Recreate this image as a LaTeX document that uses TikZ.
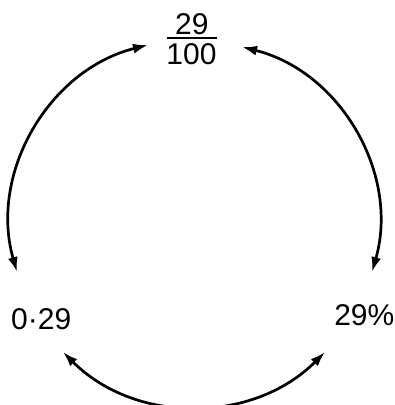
\documentclass[tikz,border=0pt]{standalone}
\usepackage{fontspec}
\setmainfont{Liberation Sans}
\usetikzlibrary{arrows.meta}
\tikzset{
  lbl/.style={inner sep=0pt, font=\fontsize{30}{36}\selectfont},
  conn/.style={line width=2.7pt, {Latex[length=15pt,width=10pt]}-{Latex[length=15pt,width=10pt]}},
}
\begin{document}
\begin{tikzpicture}[x=1pt,y=1pt]
\useasboundingbox (0,0) rectangle (395,405);
% labels
\node[lbl, anchor=base] (num) at (191.8,370.7) {29};
\node[lbl, anchor=base] (den) at (191.5,340.7) {100};
\draw[line width=2pt] (166.7,367.3) -- (216.7,367.3);
\node[lbl, anchor=base west] (dec) at (11,75.7) {0·29};
\node[lbl, anchor=base east] (pct) at (394.5,79) {29\%};
% arrow end points
\coordinate (L1) at (17,133);
\coordinate (L2) at (148,360);
\coordinate (R1) at (242,358);
\coordinate (R2) at (372,133);
\coordinate (B1) at (63,53);
\coordinate (B2) at (325,53);
% connectors
\draw[conn] (L1) to[bend left=46] (L2);
\draw[conn] (R1) to[bend left=46] (R2);
\draw[conn] (B1) to[bend right=45] (B2);
\end{tikzpicture}
\end{document}
